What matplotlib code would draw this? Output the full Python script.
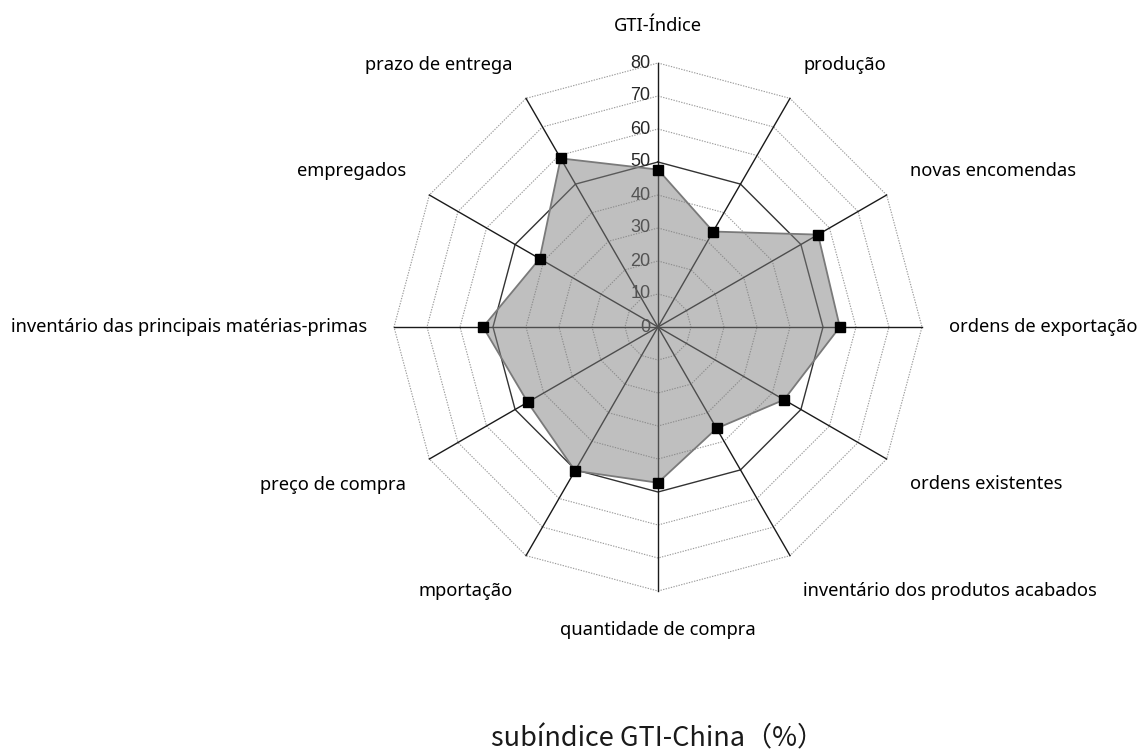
import numpy as np
import matplotlib
matplotlib.use("Agg")
import matplotlib.pyplot as plt

# subíndice GTI-China, clockwise from the top
categories = [
    "GTI-Índice", "produção", "novas encomendas", "ordens de exportação",
    "ordens existentes", "inventário dos produtos acabados",
    "quantidade de compra", "mportação", "preço de compra",
    "inventário das principais matérias-primas", "empregados",
    "prazo de entrega",
]
values = [47.7, 33.4, 56.0, 55.1, 44.1, 35.5, 47.2, 50.3, 45.6, 53.0, 41.4, 59.0]
rings = [10, 20, 30, 40, 50, 60, 70, 80]
tick_labels = ["0", "10", "20", "30", "40", "50", "60", "70", "80"]
title = "subíndice GTI-China（%）"

W, H = 1142, 754
cx, cy = 658, 427          # centre in pixels (from bottom-left)
px = 264 / 80.0            # pixels per unit

fig = plt.figure(figsize=(W / 100, H / 100), dpi=100)
ax = fig.add_axes([0, 0, 1, 1])
ax.set_xlim(-cx / px, (W - cx) / px)
ax.set_ylim(-cy / px, (H - cy) / px)
ax.set_axis_off()

n = len(categories)
theta = np.arange(n) * 2 * np.pi / n
sx, sy = np.sin(theta), np.cos(theta)

# grid rings (polygons)
for r in rings:
    xs = np.append(r * sx, r * sx[0])
    ys = np.append(r * sy, r * sy[0])
    if r == 50:
        ax.plot(xs, ys, color="#333333", lw=1.0, zorder=2)
    else:
        ax.plot(xs, ys, color="#9a9a9a", lw=0.8, ls=(0, (1.2, 1.2)), zorder=1)

# spokes
for i in range(n):
    ax.plot([0, 80 * sx[i]], [0, 80 * sy[i]], color="#1a1a1a", lw=1.0, zorder=2)

# radial tick labels
for k, t in enumerate(tick_labels):
    ax.annotate(t, (0, k * 10), xytext=(-5.5, 0), textcoords="offset points",
                ha="right", va="center", fontsize=13, color="#262626",
                family="Liberation Sans", zorder=3)

# data polygon, drawn over grid with transparency
v = np.array(values)
vx, vy = v * sx, v * sy
ax.fill(vx, vy, color="#808080", alpha=0.5, lw=0, zorder=4)
ax.plot(np.append(vx, vx[0]), np.append(vy, vy[0]), color="#7a7a7a", lw=1.3, zorder=5)
ax.plot(vx, vy, ls="none", marker="s", ms=7.5, color="black", zorder=6)

# category labels
for i, lab in enumerate(categories):
    s, c = sx[i], sy[i]
    ha = "center" if abs(s) < 1e-6 else ("left" if s > 0 else "right")
    off_x = 27 * s * 0.72
    off_y = (27 * c + (10 if c > 1e-6 else (-12 if c < -1e-6 else 0))) * 0.72
    ax.annotate(lab, (80 * s, 80 * c), xytext=(off_x, off_y), textcoords="offset points",
                ha=ha, va="center", fontsize=13.2, color="black",
                family=["Noto Sans", "DejaVu Sans"])

fig.text(658 / W, 1 - 746 / H, title, ha="center", va="baseline", fontsize=19.5,
         family=["Noto Sans CJK SC", "DejaVu Sans"], color="#1a1a1a")

fig.savefig("out.png", dpi=100)
